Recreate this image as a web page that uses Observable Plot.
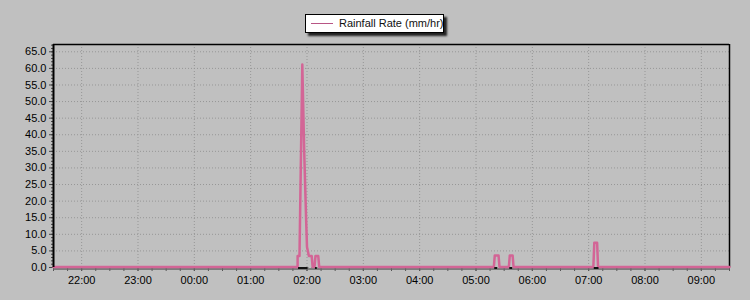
<!DOCTYPE html>
<html>
<head>
<meta charset="utf-8">
<script src="https://cdn.jsdelivr.net/npm/d3@7"></script>
<script src="https://cdn.jsdelivr.net/npm/@observablehq/plot@0.6"></script>
<style>
  html, body { margin: 0; padding: 0; background: #c0c0c0; }
  #wrap { position: relative; width: 750px; height: 300px; font-family: "Liberation Sans", Arial, sans-serif; }
  #legend { position: absolute; left: 305px; top: 14px; width: 137px; height: 17px; background: #fff;
            border: 1px solid #000; box-shadow: 3px 3px 2px #222; overflow: hidden; white-space: nowrap; }
  #legend .sw { position: absolute; left: 5px; top: 8px; width: 22px; height: 1px; background: #b85585; }
  #legend .tx { position: absolute; left: 33px; top: 2px; font-size: 11px; color: #111; }
</style>
</head>
<body>
<div id="wrap">
  <div id="chart"></div>
  <div id="legend"><div class="sw"></div><div class="tx"></div></div>
</div>
<script>
// ---- data ----
const seriesName = "Rainfall Rate (mm/hr)";
const xDomainLabels = ["21:30", "09:30"];
const xTickLabels = ["22:00","23:00","00:00","01:00","02:00","03:00","04:00","05:00","06:00","07:00","08:00","09:00"];
const yTickValues = [0,5,10,15,20,25,30,35,40,45,50,55,60,65];
const yMax = 67.2;
const times = ["21:30","01:50","01:50","01:52","01:55","01:57","01:59","02:00","02:02","02:05","02:06","02:08","02:09","02:12","02:13",
               "05:19","05:20","05:24","05:25","05:35","05:36","05:39","05:40","07:05","07:06","07:09","07:10","09:30"];
const rates = [0,0,3.3,3.3,61,35,15,6,3.3,3.3,0,0,3.3,3.3,0,
               0,3.5,3.5,0,0,3.5,3.5,0,0,7.3,7.3,0,0];
const markStarts = ["01:51","02:09","05:20","05:36","07:06"];
const markEnds   = ["02:01","02:11","05:23","05:39","07:11"];

// ---- helpers ----
function parseT(t) {
  const [h, m] = t.split(":").map(Number);
  const day = h >= 12 ? 1 : 2;
  return new Date(Date.UTC(2020, 0, day, h, m));
}
const x0 = parseT(xDomainLabels[0]), x1 = parseT(xDomainLabels[1]);
const data = times.map((t, i) => ({t: parseT(t), v: rates[i]}));
const marks = markStarts.map((s, i) => ({a: parseT(s), b: parseT(markEnds[i])}));
const hourTicks = xTickLabels.map(parseT);
const quarterTicks = d3.utcMinute.every(15).range(x0, new Date(+x1 + 1));
const yMinor = d3.range(0, 68, 1);
const fmt = d3.utcFormat("%H:%M");

document.querySelector("#legend .tx").textContent = seriesName;

const chart = Plot.plot({
  width: 750,
  height: 300,
  marginLeft: 53,
  marginRight: 21,
  marginTop: 44,
  marginBottom: 33,
  style: {background: "#c0c0c0", fontFamily: "Liberation Sans, Arial, sans-serif", fontSize: "11px", color: "#000"},
  x: {type: "utc", domain: [x0, x1]},
  y: {domain: [0, yMax]},
  marks: [
    Plot.gridY(yTickValues, {stroke: "#969696", strokeOpacity: 1, strokeDasharray: "1,2"}),
    Plot.gridX(hourTicks, {stroke: "#969696", strokeOpacity: 1, strokeDasharray: "1,2"}),
    Plot.axisY(yMinor, {tickSize: 2, tickFormat: () => "", stroke: "#444", label: null}),
    Plot.axisY(yTickValues, {tickSize: 4, tickPadding: 3, tickFormat: d => d.toFixed(1), stroke: "#444", fill: "#000", fontSize: 11, label: null}),
    Plot.axisX(quarterTicks, {tickSize: 4, tickFormat: () => "", stroke: "#555", label: null}),
    Plot.axisX(hourTicks, {tickSize: 4, tickPadding: 5, tickFormat: fmt, stroke: "#555", fill: "#000", fontSize: 11, label: null}),
    Plot.ruleY([yMax], {stroke: "#000", strokeWidth: 1.5}),
    Plot.ruleX([x1], {stroke: "#000", strokeWidth: 1.5}),
    Plot.ruleY([0], {stroke: "#666", strokeWidth: 1.5, dy: 1.5}),
    Plot.line(data, {x: "t", y: "v", stroke: "#d36596", strokeWidth: 2.5, dy: -0.5, curve: "linear"}),
    Plot.ruleY(marks, {y: 0, x1: "a", x2: "b", stroke: "#111", strokeWidth: 2, dy: 0.5}),
    Plot.ruleX([x0], {stroke: "#000", strokeWidth: 2})
  ]
});
document.getElementById("chart").appendChild(chart);
</script>
</body>
</html>
